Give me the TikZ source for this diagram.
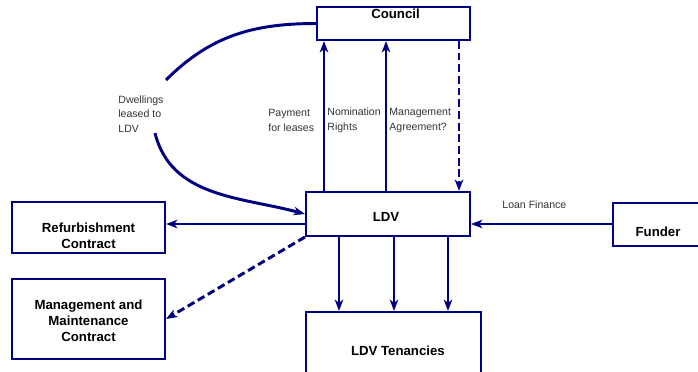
\documentclass[tikz,border=0pt]{standalone}
\usepackage{fontspec}
\setmainfont{Liberation Sans}
\usepackage{xcolor}
\usetikzlibrary{arrows.meta}
\definecolor{navy}{RGB}{0,0,128}

\begin{document}
\begin{tikzpicture}[
  x=0.025cm, y=0.025cm,
  box/.style={draw=navy,line width=1.5pt,inner sep=0pt},
  boxtext/.style={font=\fontsize{9.4}{11.4}\selectfont\bfseries,align=center},
  lbl/.style={font=\fontsize{7.5}{10.5}\selectfont,text=black!80,align=left,inner sep=1.5pt},
  flow/.style={draw=navy,line width=2.1pt},
  maybe/.style={dash pattern=on 5.5pt off 2.8pt},
  >={Stealth[length=8pt,width=6pt,inset=2.2pt]}]
\useasboundingbox (0,0) rectangle (698,-371);
% boxes
\node[box,minimum width=3.825cm,minimum height=0.825cm,
  label={[boxtext,xshift=0.05cm,yshift=0.24cm]center:Council}] (council) at (393.5,-23.5) {};
\node[box,minimum width=4.1cm,minimum height=1.1cm,
  label={[boxtext,xshift=-0.05cm,yshift=-0.075cm]center:LDV}] (ldv) at (388,-214) {};
\node[box,minimum width=3.825cm,minimum height=1.275cm,
  label={[boxtext,yshift=-0.2cm]center:{Refurbishment\\Contract}}] (refurb) at (88.5,-227.5) {};
\node[box,minimum width=3.825cm,minimum height=2cm,
  label={[boxtext,yshift=-0.05cm]center:{Management and\\Maintenance\\Contract}}] (mmc) at (88.5,-319) {};
\node[box,minimum width=4.375cm,minimum height=1.95cm,
  label={[boxtext,xshift=0.11cm]center:LDV Tenancies}] (ten) at (393.5,-351) {};
\node[box,minimum width=2.25cm,minimum height=1.075cm,
  label={[boxtext,yshift=-0.19cm]center:Funder}] (funder) at (658,-224.5) {};
% labels
\node[lbl,anchor=west] (dwell) at (116,-114) {Dwellings\\leased to\\LDV};
\node[lbl,anchor=west] (pay) at (266,-120.5) {Payment\\for leases};
\node[lbl,anchor=west] (nom) at (325,-120.5) {Nomination\\Rights};
\node[lbl,anchor=west] (mgt) at (387,-120.5) {Management\\Agreement?};
\node[lbl,anchor=west] (loan) at (500,-205) {Loan Finance};
\coordinate (gapa) at (166,-80);
\coordinate (gapb) at (155,-133);
% connectors
\draw[flow] (council.west) to[out=180,in=45] (gapa);
\draw[flow,->] (gapb) to[out=-76,in=165] (ldv.west);
\foreach \x in {324,386}
  \draw[flow,->] (ldv.north -| \x,0) -- (council.south -| \x,0);
\draw[flow,maybe,->] (council.south -| 459,0) -- (ldv.north -| 459,0);
\foreach \x in {339,394,448}
  \draw[flow,->] (ldv.south -| \x,0) -- (ten.north -| \x,0);
\draw[flow,->] (ldv.west |- 0,-224) -- (refurb.east |- 0,-224);
\draw[flow,->] (funder.west |- 0,-224) -- (ldv.east |- 0,-224);
\draw[flow,maybe,->] (ldv.south west) -- (mmc.east);
\end{tikzpicture}
\end{document}
